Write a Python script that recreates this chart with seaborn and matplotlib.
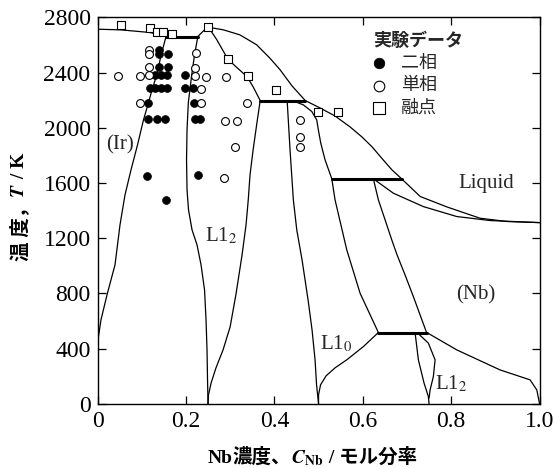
import matplotlib
matplotlib.use("Agg")
import matplotlib.pyplot as plt
import seaborn as sns
from matplotlib.offsetbox import TextArea, HPacker, AnchoredOffsetbox

# ── Style ─────────────────────────────────────────────────────────────────────
sns.set_theme(style="ticks")
plt.rcParams["font.family"] = ["Liberation Serif", "Noto Sans CJK JP"]
plt.rcParams["mathtext.fontset"] = "stix"

# ── Phase boundaries (x = Nb mole fraction, T in K) ───────────────────────────
liq_ir_x = [0, 0.053, 0.119, 0.155]
liq_ir_t = [2714, 2709, 2690, 2663]

liq_eut_x = [0.227, 0.236, 0.244, 0.251]
liq_eut_t = [2661, 2690, 2715, 2728]

liq_nb_x = [0.251, 0.285, 0.322, 0.360, 0.390, 0.413, 0.440, 0.470, 0.503, 0.537,
            0.571, 0.598, 0.621, 0.646, 0.666, 0.688, 0.730, 0.790, 0.865, 0.926, 1.0]
liq_nb_t = [2728, 2709, 2673, 2601, 2504, 2420, 2303, 2197, 2144, 2086,
            2007, 1934, 1862, 1768, 1695, 1630, 1502, 1427, 1345, 1321, 1313]

# (Ir) solvus
ir_x = [0.155, 0.144, 0.134, 0.123, 0.115, 0.104, 0.0905, 0.0758, 0.0622, 0.0509,
        0.0396, 0.0215, 0.0079, 0.0011, 0]
ir_t = [2661, 2528, 2383, 2271, 2178, 2057, 1876, 1695, 1514, 1297,
        1007, 790, 609, 464, 377]

# L1_2 (Ir3Nb) left boundary
l12a_x = [0.227, 0.2195, 0.2131, 0.2054, 0.2025, 0.2014, 0.2025, 0.2059, 0.2138,
          0.2251, 0.2342, 0.2421, 0.2455, 0.2477, 0.2489, 0.25]
l12a_t = [2661, 2528, 2383, 2181, 1985, 1768, 1550, 1405, 1261,
          1152, 1007, 826, 609, 391, 174, 0]

# L1_2 right boundary (from congruent maximum)
l12b_x = [0.251, 0.270, 0.295, 0.316, 0.338, 0.352, 0.368, 0.360, 0.352, 0.345,
          0.341, 0.336, 0.327, 0.313, 0.300, 0.284, 0.268, 0.257, 0.251, 0.25]
l12b_t = [2728, 2637, 2496, 2434, 2371, 2297, 2197, 2022, 1840, 1659,
          1478, 1297, 1079, 790, 558, 391, 261, 152, 65, 0]

# L1_0 boundaries
l10a_x = [0.429, 0.4355, 0.443, 0.4507, 0.4627, 0.4763, 0.4853, 0.4921, 0.4955, 0.5]
l10a_t = [2197, 1840, 1478, 1261, 1043, 753, 536, 319, 138, 0]

l10b_x = [0.440, 0.4656, 0.4846, 0.4959, 0.4995, 0.505, 0.5147, 0.530]
l10b_t = [2197, 2166, 2118, 2057, 1985, 1889, 1768, 1630]

l10c_x = [0.530, 0.5373, 0.5638, 0.5939, 0.6353]
l10c_t = [1630, 1478, 1116, 802, 517]

l10d_x = [0.6353, 0.6014, 0.5638, 0.5373, 0.517, 0.5045, 0.5, 0.5]
l10d_t = [517, 415, 319, 261, 203, 138, 65, 0]

# (Nb) boundaries
nb_a_x = [0.624, 0.6353, 0.6505, 0.6656, 0.6776, 0.6957, 0.7145, 0.7296, 0.7443]
nb_a_t = [1630, 1478, 1333, 1188, 1079, 934, 777, 645, 517]

nb_sol_x = [0.624, 0.6692, 0.7371, 0.8127, 0.888, 1.0]
nb_sol_t = [1630, 1526, 1429, 1357, 1328, 1313]

nb_low_x = [0.7448, 0.8127, 0.9106, 0.9785, 0.9937, 1.0]
nb_low_t = [517, 391, 246, 174, 101, 0]

# low-temperature L1_2 lens
lens_l_x = [0.7183, 0.7258, 0.7387, 0.7484, 0.75]
lens_l_t = [517, 319, 150, 53, 0]
lens_r_x = [0.7229, 0.7484, 0.7636, 0.7597, 0.7523, 0.75]
lens_r_t = [517, 440, 319, 198, 101, 43]

# invariant (tie) lines
tie_x = [[0.155, 0.227], [0.368, 0.470], [0.530, 0.688], [0.635, 0.745]]
tie_t = [2661, 2197, 1630, 517]

# ── Experimental data ─────────────────────────────────────────────────────────
two_x = [0.138, 0.138, 0.159, 0.138, 0.159, 0.131, 0.144, 0.158, 0.198,
         0.118, 0.131, 0.144, 0.158, 0.198, 0.217, 0.115, 0.219,
         0.114, 0.134, 0.153, 0.221, 0.232, 0.111, 0.228, 0.155]
two_t = [2565, 2535, 2535, 2440, 2440, 2380, 2380, 2380, 2380,
         2285, 2285, 2285, 2285, 2285, 2285, 2178, 2178,
         2065, 2065, 2065, 2065, 2065, 1650, 1655, 1478]

single_x = [0.117, 0.117, 0.222, 0.117, 0.221, 0.047, 0.095, 0.117, 0.221, 0.246,
            0.291, 0.233, 0.096, 0.233, 0.339, 0.289, 0.315, 0.310, 0.286,
            0.459, 0.459, 0.459]
single_t = [2565, 2535, 2540, 2440, 2436, 2376, 2376, 2383, 2373, 2371,
            2371, 2280, 2178, 2178, 2178, 2050, 2050, 1864, 1635,
            2057, 1931, 1858]

melt_x = [0.053, 0.119, 0.134, 0.149, 0.168, 0.251, 0.295, 0.341, 0.404, 0.498, 0.543]
melt_t = [2741, 2722, 2697, 2697, 2680, 2728, 2496, 2376, 2270, 2113, 2113]

# ── Plot ──────────────────────────────────────────────────────────────────────
fig = plt.figure(figsize=(5.54, 4.68), dpi=100)
ax = fig.add_axes([0.176, 0.137, 0.798, 0.826])

curves = [
    (liq_ir_x, liq_ir_t), (liq_eut_x, liq_eut_t), (liq_nb_x, liq_nb_t),
    (ir_x, ir_t), (l12a_x, l12a_t), (l12b_x, l12b_t),
    (l10a_x, l10a_t), (l10b_x, l10b_t), (l10c_x, l10c_t), (l10d_x, l10d_t),
    (nb_a_x, nb_a_t), (nb_sol_x, nb_sol_t), (nb_low_x, nb_low_t),
    (lens_l_x, lens_l_t), (lens_r_x, lens_r_t),
]
for cx, ct in curves:
    sns.lineplot(x=cx, y=ct, sort=False, estimator=None, color="black",
                 linewidth=0.9, ax=ax)

for tx, tt in zip(tie_x, tie_t):
    sns.lineplot(x=tx, y=[tt, tt], sort=False, estimator=None, color="black",
                 linewidth=2.2, ax=ax)

sns.scatterplot(x=two_x, y=two_t, marker="o", s=32, color="black",
                edgecolor="black", linewidth=0.5, label="二相", ax=ax, zorder=3)
sns.scatterplot(x=single_x, y=single_t, marker="o", s=32, facecolor="white",
                edgecolor="black", linewidth=0.8, label="単相", ax=ax, zorder=3)
sns.scatterplot(x=melt_x, y=melt_t, marker="s", s=36, facecolor="white",
                edgecolor="black", linewidth=0.8, label="融点", ax=ax, zorder=3)

# phase labels
ax.text(0.051, 1876, "(Ir)", fontsize=15, ha="center", va="center")
ax.text(0.279, 1217, "L1$_2$", fontsize=15, ha="center", va="center")
ax.text(0.540, 435, "L1$_0$", fontsize=15, ha="center", va="center")
ax.text(0.801, 145, "L1$_2$", fontsize=15, ha="center", va="center")
ax.text(0.856, 790, "(Nb)", fontsize=15, ha="center", va="center")
ax.text(0.880, 1599, "Liquid", fontsize=15, ha="center", va="center")

# axes
ax.set_xlim(0, 1.0)
ax.set_ylim(0, 2800)
ax.set_xticks([0, 0.2, 0.4, 0.6, 0.8, 1.0])
ax.set_xticklabels(["0", "0.2", "0.4", "0.6", "0.8", "1.0"])
ax.set_yticks(range(0, 2801, 400))
ax.tick_params(direction="in", length=6, width=0.9, labelsize=17,
               top=True, right=True, pad=5, colors="black")
for sp in ax.spines.values():
    sp.set_linewidth(1.0)
    sp.set_color("black")
    sp.set_visible(True)
ax.set_xlabel("")
ax.set_ylabel("")

# x label: Japanese text + italic C with subscript, packed on one baseline
bold = dict(fontsize=14, fontweight="bold", color="black")
serif_bold = dict(bold, fontfamily="Liberation Serif")
xlab = HPacker(children=[TextArea("Nb", textprops=serif_bold),
                         TextArea("濃度、", textprops=bold),
                         TextArea("$\\mathbfit{C}_{\\mathbf{Nb}}$", textprops=bold),
                         TextArea(" / モル分率", textprops=bold)],
               align="baseline", pad=0, sep=0)
ax.add_artist(AnchoredOffsetbox(loc="center", child=xlab, pad=0, borderpad=0,
                                frameon=False, bbox_to_anchor=(0.486, -0.14),
                                bbox_transform=ax.transAxes))

# y label: rotated pieces stacked bottom to top
ypieces = ["温 度，", "$\\mathbfit{T}$", " / K"]
ytexts = [fig.text(0, 0, s, rotation=90, ha="center", va="bottom", **bold)
          for s in ypieces]
fig.canvas.draw()
W, H = fig.bbox.width, fig.bbox.height
hs = [t.get_window_extent().height for t in ytexts]
ypos = (H - 207) - sum(hs) / 2
for t, h in zip(ytexts, hs):
    t.set_position((20 / W, ypos / H))
    ypos += h

leg = ax.legend(title="実験データ", loc="upper left", bbox_to_anchor=(0.604, 0.985),
                frameon=False, fontsize=13, handlelength=0.6, handletextpad=0.9,
                labelspacing=0.3, borderpad=0, alignment="left", markerscale=1.35,
                title_fontproperties={"weight": "bold", "size": 13})

fig.savefig("out.png", dpi=100)
